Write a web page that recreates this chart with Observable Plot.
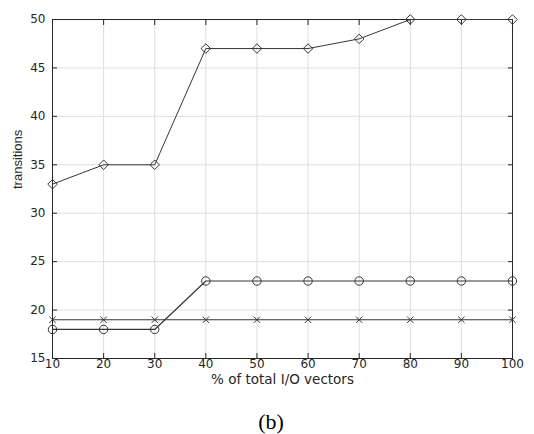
<!DOCTYPE html>
<html><head><meta charset="utf-8">
<script src="https://cdn.jsdelivr.net/npm/d3@7"></script>
<script src="https://cdn.jsdelivr.net/npm/@observablehq/plot@0.6"></script>
<style>
body{margin:0;background:#fff;width:534px;height:434px;overflow:hidden}
#cap{font:22px "Liberation Serif","Times New Roman",serif;color:#000;text-align:center;width:534px;padding-left:8px;box-sizing:border-box;line-height:24px;margin-top:18px}
svg{display:block}
</style>
</head><body>
<div id="chart"></div>
<div id="cap">(b)</div>
<script>
const xValues = [10, 20, 30, 40, 50, 60, 70, 80, 90, 100];
const diamondValues = [33, 35, 35, 47, 47, 47, 48, 50, 50, 50];
const circleValues = [18, 18, 18, 23, 23, 23, 23, 23, 23, 23];
const crossValues = [19, 19, 19, 19, 19, 19, 19, 19, 19, 19];
const xTicks = [10, 20, 30, 40, 50, 60, 70, 80, 90, 100];
const yTicks = [15, 20, 25, 30, 35, 40, 45, 50];
const xLabel = "% of total I/O vectors";
const yLabel = "transitions";

const toRows = (vals) => xValues.map((x, i) => ({x, y: vals[i]}));
const diamonds = toRows(diamondValues);
const circles = toRows(circleValues);
const crosses = toRows(crossValues);

const axisColor = "#262626";
const lineColor = "#363636";
const tickFont = "DejaVu Sans, sans-serif";

const chart = Plot.plot({
  width: 534,
  height: 392,
  marginLeft: 52,
  marginRight: 22,
  marginTop: 19,
  marginBottom: 34,
  style: {fontFamily: tickFont, fontSize: "12px", color: axisColor, background: "#fff"},
  x: {domain: [10, 100], type: "linear"},
  y: {domain: [15, 50], type: "linear"},
  marks: [
    Plot.gridX(xTicks, {stroke: "#dedede", strokeOpacity: 1}),
    Plot.gridY(yTicks, {stroke: "#dedede", strokeOpacity: 1}),
    Plot.axisX(xTicks, {anchor: "bottom", tickSize: -5, text: null, label: null, stroke: axisColor}),
    Plot.axisX(xTicks, {anchor: "top", tickSize: -5, text: null, label: null, stroke: axisColor}),
    Plot.axisY(yTicks, {anchor: "left", tickSize: -5, text: null, label: null, stroke: axisColor}),
    Plot.axisY(yTicks, {anchor: "right", tickSize: -5, text: null, label: null, stroke: axisColor}),
    Plot.axisX(xTicks, {anchor: "bottom", tickSize: 0, tickPadding: 1, fill: axisColor,
      label: null, fontSize: 12}),
    Plot.axisY(yTicks, {anchor: "left", tickSize: 0, tickPadding: 7, fill: axisColor,
      label: null, fontSize: 12}),
    Plot.text([xLabel], {frameAnchor: "bottom", dy: 25, text: d => d,
      fontSize: 13.5, fontFamily: tickFont, fill: axisColor}),
    Plot.text([yLabel], {frameAnchor: "left", dx: -35, rotate: -90, text: d => d,
      fontSize: 13, fontFamily: "Liberation Sans, Arial, sans-serif", fill: axisColor}),
    Plot.frame({stroke: axisColor, strokeWidth: 1}),
    Plot.line(diamonds, {x: "x", y: "y", stroke: lineColor, strokeWidth: 1}),
    Plot.line(circles, {x: "x", y: "y", stroke: lineColor, strokeWidth: 1.2}),
    Plot.line(crosses, {x: "x", y: "y", stroke: lineColor, strokeWidth: 1.2}),
    Plot.dot(diamonds, {x: "x", y: "y", symbol: "diamond2", r: 4.3, stroke: lineColor, fill: "none", strokeWidth: 1}),
    Plot.dot(circles, {x: "x", y: "y", symbol: "circle", r: 4.2, stroke: lineColor, fill: "none", strokeWidth: 1}),
    Plot.dot(crosses, {x: "x", y: "y", symbol: "times", r: 3, stroke: lineColor, strokeWidth: 1})
  ]
});
document.getElementById("chart").append(chart);
</script>
</body></html>
